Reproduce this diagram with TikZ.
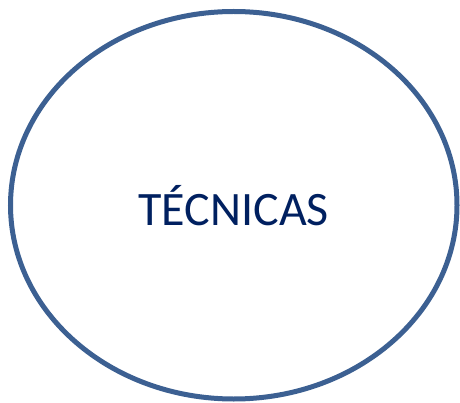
\documentclass[tikz,border=0pt]{standalone}
\usepackage{fontspec}
\setmainfont{Carlito}
\usetikzlibrary{shapes.geometric}
\definecolor{rimblue}{HTML}{3C6092}
\definecolor{navytext}{HTML}{002060}
\tikzset{
  bubble/.style={draw=rimblue, line width=5pt, ellipse, minimum width=446.5pt,
    minimum height=387.5pt, inner sep=0pt, text=navytext,
    font=\fontsize{48pt}{52pt}\selectfont}
}
\begin{document}
\begin{tikzpicture}[x=1pt,y=1pt]
\useasboundingbox (0,0) rectangle (460,402);
\node[bubble] (tecnicas) at (233.75,196.75) {TÉCNICAS};
\end{tikzpicture}
\end{document}
